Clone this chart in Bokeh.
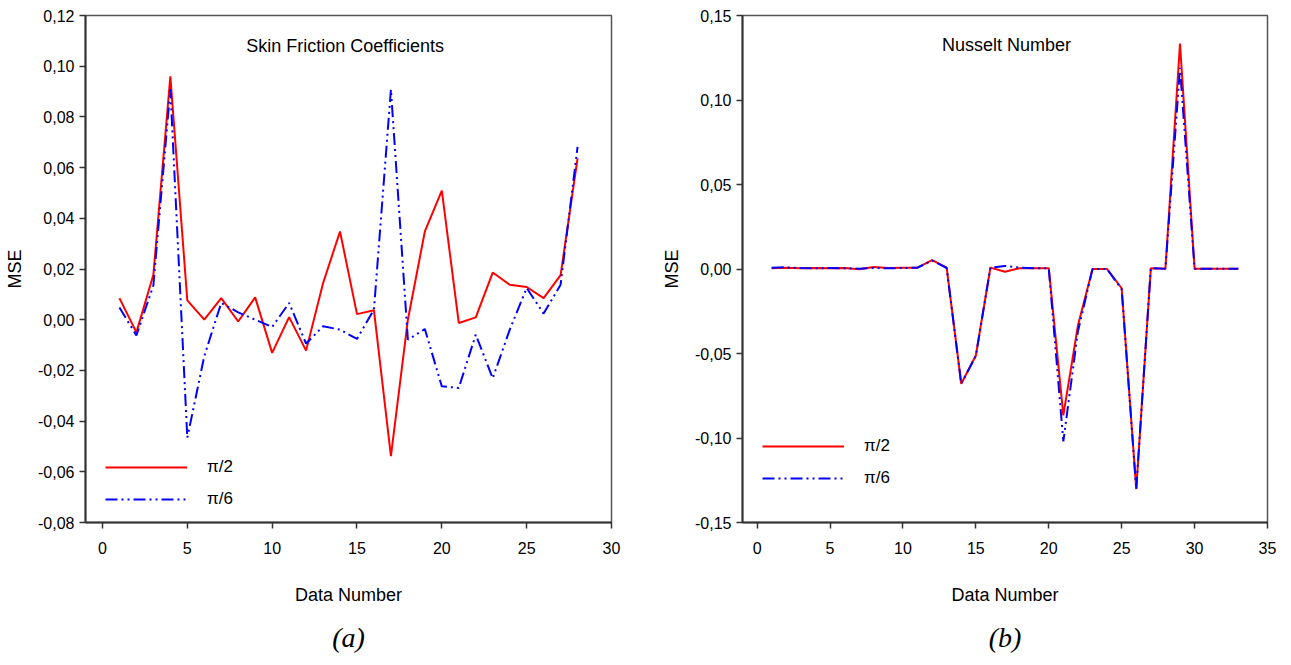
from bokeh.plotting import figure
from bokeh.layouts import row
from bokeh.models import (Range1d, FixedTicker, CustomJSTickFormatter, Legend,
                          LegendItem, Title, Label)
from bokeh.embed import file_html
from bokeh.resources import INLINE

# ---------------- data ----------------
x_a = list(range(1, 29))
red_a = [0.0085, -0.0050, 0.0177, 0.0960, 0.0076, 0.0000, 0.0085, -0.0007, 0.0088,
         -0.0131, 0.0010, -0.0122, 0.0144, 0.0348, 0.0022, 0.0037, -0.0538, 0.0000,
         0.0348, 0.0509, -0.0013, 0.0009, 0.0186, 0.0138, 0.0129, 0.0085, 0.0176, 0.0636]
blue_a = [0.0048, -0.0062, 0.0135, 0.0910, -0.0466, -0.0144, 0.0066, 0.0029, 0.0000,
          -0.0029, 0.0066, -0.0094, -0.0026, -0.0039, -0.0076, 0.0040, 0.0908, -0.0079,
          -0.0037, -0.0263, -0.0269, -0.0059, -0.0231, -0.0040, 0.0125, 0.0024, 0.0138, 0.0682]

x_b = list(range(1, 34))
red_b = [0.0005, 0.0008, 0.0004, 0.0006, 0.0004, 0.0006, -0.0002, 0.0012, 0.0006, 0.0008,
         0.0008, 0.0053, 0.0008, -0.0679, -0.0512, 0.0008, -0.0016, 0.0005, 0.0005, 0.0005,
         -0.0866, -0.0335, 0.0000, 0.0000, -0.0114, -0.1303, 0.0005, 0.0002, 0.1334, 0.0002,
         0.0002, 0.0002, 0.0002]
blue_b = [0.0008, 0.0010, 0.0006, 0.0004, 0.0006, 0.0004, 0.0002, 0.0006, 0.0004, 0.0006,
          0.0008, 0.0050, 0.0006, -0.0679, -0.0515, 0.0008, 0.0018, 0.0008, 0.0005, 0.0005,
          -0.1020, -0.0370, 0.0000, 0.0000, -0.0120, -0.1303, 0.0005, 0.0002, 0.1190, 0.0002,
          0.0002, 0.0002, 0.0002]

xticks_a = [0, 5, 10, 15, 20, 25, 30]
yticks_a = [-0.08, -0.06, -0.04, -0.02, 0.0, 0.02, 0.04, 0.06, 0.08, 0.10, 0.12]
xticks_b = [0, 5, 10, 15, 20, 25, 30, 35]
yticks_b = [-0.15, -0.10, -0.05, 0.0, 0.05, 0.10, 0.15]

series_labels = ["\u03c0/2", "\u03c0/6"]
titles = ["Skin Friction Coefficients", "Nusselt Number"]
panel_labels = ["(a)", "(b)"]

FONT = "Liberation Sans"
fmt_code = """
const v = Math.abs(tick) < 1e-9 ? 0 : tick;
return v.toFixed(2).replace('.', ',');
"""


def make_plot(xs, red, blue, xr, yr, xticks, yticks, width, mbl, mbr,
              title, title_xy, panel, legend_loc):
    p = figure(width=width, height=664, x_range=Range1d(*xr), y_range=Range1d(*yr),
               output_backend="svg", toolbar_location=None,
               min_border_left=mbl, min_border_right=mbr, min_border_top=15,
               min_border_bottom=141, background_fill_color="white",
               border_fill_color="white")
    p.xgrid.visible = False
    p.ygrid.visible = False
    p.outline_line_color = "#555555"
    p.outline_line_width = 1.5

    for ax in (p.xaxis[0], p.yaxis[0]):
        ax.axis_line_width = 2
        ax.axis_line_color = "#333333"
        ax.major_tick_line_color = "#333333"
        ax.major_tick_line_width = 1.5
        ax.major_tick_out = 6
        ax.major_tick_in = 0
        ax.minor_tick_line_color = None
        ax.major_label_text_font = FONT
        ax.major_label_text_font_size = "16px"
        ax.major_label_text_color = "black"
        ax.axis_label_text_font = FONT
        ax.axis_label_text_font_size = "18px"
        ax.axis_label_text_font_style = "normal"
        ax.axis_label_text_color = "black"

    p.xaxis.ticker = FixedTicker(ticks=xticks)
    p.yaxis.ticker = FixedTicker(ticks=yticks)
    p.yaxis.formatter = CustomJSTickFormatter(code=fmt_code)
    p.xaxis.axis_label = "Data Number"
    p.yaxis.axis_label = "MSE"
    p.xaxis.major_label_standoff = 13
    p.xaxis.axis_label_standoff = 28
    p.yaxis.major_label_standoff = 5
    p.yaxis.axis_label_standoff = 10

    r1 = p.line(xs, red, line_color="#ff0000", line_width=2)
    r2 = p.line(xs, blue, line_color="#0000ff", line_width=2, line_dash="12 4 2 4 2 4")

    legend = Legend(items=[LegendItem(label=series_labels[0], renderers=[r1]),
                           LegendItem(label=series_labels[1], renderers=[r2])],
                    location=legend_loc, margin=0, padding=10, spacing=12,
                    glyph_width=82, glyph_height=20, label_height=20,
                    label_standoff=20, label_text_font=FONT,
                    label_text_font_size="17px", label_text_color="black",
                    border_line_color=None, background_fill_alpha=0)
    p.add_layout(legend)

    p.add_layout(Label(x=title_xy[0], y=title_xy[1], text=title, text_align="center",
                       text_baseline="middle", text_font=FONT, text_font_size="18px",
                       text_color="black"))

    p.add_layout(Title(text=panel, align="center", text_font="Liberation Serif",
                       text_font_style="italic", text_font_size="28px",
                       text_color="black", standoff=24), "below")
    return p


p1 = make_plot(x_a, red_a, blue_a, (-1, 30), (-0.08, 0.12), xticks_a, yticks_a,
               648, 85, 37, titles[0], (14.3, 0.108), panel_labels[0], (20, 13))
p2 = make_plot(x_b, red_b, blue_b, (-1, 35), (-0.15, 0.15), xticks_b, yticks_b,
               635, 94, 16, titles[1], (17.1, 0.1328), panel_labels[1], (20, 34))

layout = row(p1, p2)
open("out.html", "w").write(file_html(layout, INLINE))
